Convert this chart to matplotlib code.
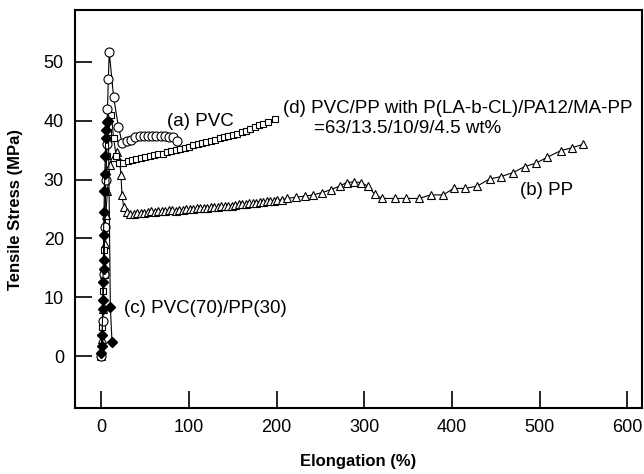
import matplotlib
matplotlib.use('Agg')
import matplotlib.pyplot as plt

plt.rcParams['font.family'] = ['Liberation Sans', 'DejaVu Sans']

# (a) PVC - lingkaran terbuka
pvc_x = [0, 1.5, 3, 4, 5, 6, 7, 8, 9, 14, 19.5, 23.7, 29.4, 34, 39, 43.9, 48.5, 53, 58, 62.6, 67.6, 72.2, 77, 81.7, 86]
pvc_y = [0, 6, 14, 22, 30, 36, 42, 47, 51.7, 44, 39, 36.2, 36.5, 36.7, 37.2, 37.4, 37.4, 37.4, 37.4, 37.4, 37.4, 37.4, 37.3, 37.2, 36.6]

# (b) PP - segitiga terbuka
pp_x = [0, 1, 2, 3, 4, 5, 7, 10, 14, 18, 21, 22.5, 23.5, 25.5, 29, 33, 37, 41, 45, 49, 53, 57, 61, 65, 69,
        73, 77, 81, 85, 89, 93, 97, 101, 105, 109, 113, 117, 121, 125, 129, 133, 137, 141, 145, 149, 153,
        157, 161, 165, 169, 173, 177, 181, 185, 189, 193, 197, 201, 206, 212, 222, 232, 242, 252, 262, 272,
        280, 288, 296, 304, 312, 320, 335, 348, 362, 376, 390, 402, 415, 429, 443, 456, 470, 483, 496, 509,
        524, 537, 550]
pp_y = [0, 3, 8, 14, 19, 24, 28, 32.5, 33.9, 34.7, 33, 30.7, 27.4, 25.4, 24.5, 24.2, 24.1, 24.3, 24.4, 24.3,
        24.5, 24.6, 24.5, 24.6, 24.7, 24.6, 24.8, 24.8, 24.7, 24.9, 24.9, 25.0, 25.0, 25.0, 25.1, 25.1, 25.2,
        25.2, 25.3, 25.3, 25.4, 25.5, 25.5, 25.6, 25.6, 25.7, 25.8, 25.8, 25.9, 26.0, 26.0, 26.1, 26.2, 26.2,
        26.3, 26.4, 26.4, 26.5, 26.6, 26.8, 27.0, 27.2, 27.4, 27.8, 28.3, 28.9, 29.5, 29.6, 29.5, 28.9, 27.5,
        26.8, 26.8, 26.8, 26.8, 27.4, 27.4, 28.5, 28.5, 28.9, 30.1, 30.5, 31.2, 32.2, 32.8, 33.8, 34.9, 35.4,
        36.0]

# (c) PVC(70)/PP(30) - belah ketupat hitam
c_x = [0, 0.5, 1, 1.5, 1.8, 1.5, 2.5, 2.5, 2.5, 3, 3.5, 4, 4.5, 5, 5.5, 6, 8, 10.3, 12.2]
c_y = [0.5, 1.8, 3.6, 8.1, 9.5, 12.6, 14.9, 16.3, 20.6, 24.5, 28, 31, 34, 37, 38.4, 39.8, 40, 8.4, 2.4]

# (d) PVC/PP dengan kompatibilizer - kotak terbuka
d_x = [0, 1, 2, 3, 4.5, 6, 8, 11.5, 14, 17, 20, 25, 30, 35, 40, 45, 50, 55, 60, 65, 70, 75, 80, 85, 90,
       95, 100, 105, 110, 115, 120, 125, 130, 135, 140, 145, 150, 155, 160, 165, 170, 175, 180, 185, 190, 198]
d_y = [0, 5, 11, 18, 28, 34, 38, 41, 37, 34, 32.8, 32.9, 33.1, 33.3, 33.5, 33.6, 33.8, 34.0, 34.1, 34.3,
       34.4, 34.6, 34.8, 35.0, 35.2, 35.4, 35.6, 35.8, 36.0, 36.2, 36.4, 36.6, 36.8, 37.0, 37.2, 37.4,
       37.6, 37.8, 38.0, 38.3, 38.6, 38.9, 39.2, 39.5, 39.8, 40.3]

x_ticks = [0, 100, 200, 300, 400, 500, 600]
y_ticks = [0, 10, 20, 30, 40, 50]

fig = plt.figure(figsize=(6.44, 4.74), dpi=100)
ax = fig.add_axes([0.1165, 0.139, 0.8805, 0.84])

ax.plot(pp_x, pp_y, color='black', lw=0.8, marker='^', ms=6, mfc='white', mec='black', mew=0.8)
ax.plot(d_x, d_y, color='black', lw=0.8, marker='s', ms=5, mfc='white', mec='black', mew=0.8)
ax.plot(pvc_x, pvc_y, color='black', lw=0.8, marker='o', ms=6.5, mfc='white', mec='black', mew=0.8)
ax.plot(c_x, c_y, color='black', lw=0.8, marker='D', ms=5, mfc='black', mec='black')

fs = 13.5
ax.text(75, 39.8, '(a) PVC', fontsize=fs, va='center', ha='left')
ax.text(207, 42.1, '(d) PVC/PP with P(LA-b-CL)/PA12/MA-PP', fontsize=fs, va='center', ha='left')
ax.text(242.5, 38.7, '=63/13.5/10/9/4.5 wt%', fontsize=fs, va='center', ha='left')
ax.text(477.7, 28.2, '(b) PP', fontsize=fs, va='center', ha='left')
ax.text(26.3, 8.1, '(c) PVC(70)/PP(30)', fontsize=fs, va='center', ha='left')

ax.set_xlim(-30, 617)
ax.set_ylim(-8.8, 58.8)
ax.set_xticks(x_ticks)
ax.set_yticks(y_ticks)
ax.tick_params(direction='in', length=12, width=1.2, labelsize=13, pad=8)
for s in ax.spines.values():
    s.set_linewidth(1.5)

ax.set_xlabel('Elongation (%)', fontsize=12, fontweight='bold', labelpad=13)
ax.set_ylabel('Tensile Stress (MPa)', fontsize=12, fontweight='bold', labelpad=15)

fig.savefig('out.png', dpi=100)
